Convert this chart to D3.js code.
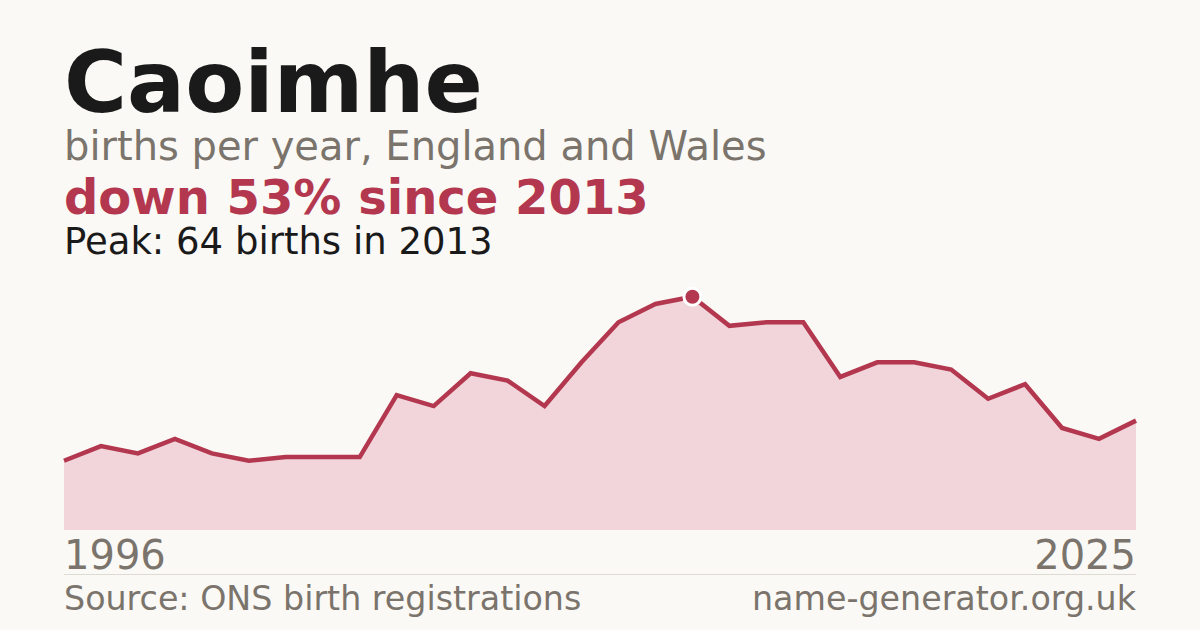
<!DOCTYPE html>
<html>
<head>
<meta charset="utf-8">
<script src="https://cdn.jsdelivr.net/npm/d3@7"></script>
<style>
  html, body { margin: 0; padding: 0; background: #faf9f5; }
  svg { display: block; font-family: "DejaVu Sans", sans-serif; }
</style>
</head>
<body>
<div id="chart"></div>
<script>
// births per year for "Caoimhe", England and Wales
const years = d3.range(1996, 2026);
const births = [19, 23, 21, 25, 21, 19, 20, 20, 20, 37, 34, 43, 41, 34, 46, 57, 62, 64, 56, 57, 57, 42, 46, 46, 44, 36, 40, 28, 25, 30];
const axisLabels = ["1996", "2025"];

const width = 1200;
const height = 630;
const margin = { left: 64, right: 64 };
const red = "#b3384f";
const grey = "#7a746c";

const svg = d3.select("#chart").append("svg").attr("width", width).attr("height", height);

svg.append("rect").attr("width", width).attr("height", height).attr("fill", "#faf9f5");

// header texts
svg.append("text")
    .attr("x", 64).attr("y", 112)
    .attr("font-size", 86).attr("font-weight", "bold")
    .attr("fill", "#1a1a1a")
    .text("Caoimhe");
svg.append("text")
    .attr("x", 64).attr("y", 160)
    .attr("font-size", 40)
    .attr("fill", grey)
    .text("births per year, England and Wales");
svg.append("text")
    .attr("x", 64).attr("y", 214)
    .attr("font-size", 48).attr("font-weight", "bold")
    .attr("fill", red)
    .text("down 53% since 2013");

const peakIdx = d3.maxIndex(births);
svg.append("text")
    .attr("x", 64).attr("y", 254)
    .attr("font-size", 37)
    .attr("fill", "#1a1a1a")
    .text(`Peak: ${births[peakIdx]} births in ${years[peakIdx]}`);

// chart
const x = d3.scaleLinear()
    .domain([years[0], years[years.length - 1]])
    .range([margin.left, width - margin.right]);
const y = d3.scaleLinear()
    .domain([0, births[peakIdx]])
    .range([530, 296.7]);

const data = years.map((yr, i) => ({ year: yr, value: births[i] }));

const area = d3.area()
    .x(d => x(d.year))
    .y0(y(0))
    .y1(d => y(d.value));
svg.append("path")
    .datum(data)
    .attr("d", area)
    .attr("fill", "#f1d5db");

const line = d3.line()
    .x(d => x(d.year))
    .y(d => y(d.value));
svg.append("path")
    .datum(data)
    .attr("d", line)
    .attr("fill", "none")
    .attr("stroke", red)
    .attr("stroke-width", 4.5)
    .attr("stroke-linejoin", "miter");

// peak marker
svg.append("circle")
    .attr("cx", x(years[peakIdx]))
    .attr("cy", y(births[peakIdx]))
    .attr("r", 8.5)
    .attr("fill", red)
    .attr("stroke", "#ffffff")
    .attr("stroke-width", 3);

// year labels
svg.append("text")
    .attr("x", x(years[0])).attr("y", 569)
    .attr("font-size", 40)
    .attr("fill", grey)
    .text(axisLabels[0]);
svg.append("text")
    .attr("x", x(years[years.length - 1])).attr("y", 569)
    .attr("font-size", 40)
    .attr("text-anchor", "end")
    .attr("fill", grey)
    .text(axisLabels[1]);

// footer
svg.append("line")
    .attr("x1", margin.left).attr("x2", width - margin.right)
    .attr("y1", 574.5).attr("y2", 574.5)
    .attr("stroke", "#dedbd4")
    .attr("stroke-width", 1);
svg.append("text")
    .attr("x", 64).attr("y", 610)
    .attr("font-size", 33.3)
    .attr("fill", grey)
    .text("Source: ONS birth registrations");
svg.append("text")
    .attr("x", width - margin.right).attr("y", 610)
    .attr("font-size", 33.3)
    .attr("text-anchor", "end")
    .attr("fill", grey)
    .text("name-generator.org.uk");
</script>
</body>
</html>
